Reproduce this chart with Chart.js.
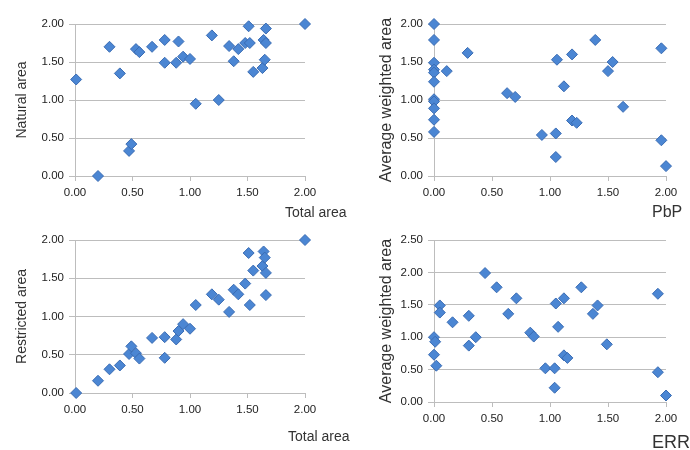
<!DOCTYPE html>
<html>
<head>
<meta charset="utf-8">
<script src="https://cdn.jsdelivr.net/npm/chart.js@4/dist/chart.umd.min.js"></script>
<style>
  body { margin: 0; background: #fff; }
  #wrap { position: relative; width: 690px; height: 450px; overflow: hidden; }
  .cell { position: absolute; width: 345px; height: 225px; }
  .xt { position: absolute; font-family: "Liberation Sans", Arial, sans-serif; color: #333; line-height: 1; white-space: nowrap; }
</style>
</head>
<body>
<div id="wrap">
  <div class="cell" style="left:0;top:0"><canvas id="c1"></canvas></div>
  <div class="cell" style="left:345px;top:0"><canvas id="c2"></canvas></div>
  <div class="cell" style="left:0;top:225px"><canvas id="c3"></canvas></div>
  <div class="cell" style="left:345px;top:225px"><canvas id="c4"></canvas></div>
  <div class="xt" style="left:285px;top:205px;font-size:14px">Total area</div>
  <div class="xt" style="left:652px;top:204px;font-size:16px">PbP</div>
  <div class="xt" style="left:288px;top:429px;font-size:14px">Total area</div>
  <div class="xt" style="left:652px;top:433px;font-size:18px">ERR</div>
</div>
<script>
// values
const totalArea = [0.01, 0.20, 0.30, 0.39, 0.47, 0.49, 0.53, 0.56, 0.67, 0.78, 0.78, 0.88, 0.90, 0.94, 1.00, 1.05,
  1.19, 1.25, 1.34, 1.38, 1.42, 1.48, 1.51, 1.52, 1.55, 1.63, 1.64, 1.65, 1.66, 1.66, 2.00];
const naturalArea = [1.27, 0.00, 1.70, 1.35, 0.33, 0.42, 1.67, 1.63, 1.70, 1.79, 1.49, 1.49, 1.77, 1.57, 1.54, 0.95,
  1.85, 1.00, 1.71, 1.51, 1.67, 1.75, 1.97, 1.75, 1.37, 1.42, 1.79, 1.53, 1.94, 1.75, 2.00];
const restrictedArea = [0.00, 0.16, 0.31, 0.36, 0.51, 0.61, 0.52, 0.45, 0.72, 0.73, 0.46, 0.70, 0.81, 0.90, 0.84, 1.15,
  1.29, 1.22, 1.06, 1.35, 1.29, 1.43, 1.83, 1.15, 1.60, 1.66, 1.85, 1.77, 1.28, 1.57, 2.00];

const pbp = [0, 0, 0, 0, 0, 0, 0, 0, 0, 0, 0, 0.11, 0.29, 0.63, 0.70, 0.93, 1.05, 1.05, 1.06, 1.12,
  1.19, 1.19, 1.23, 1.39, 1.50, 1.54, 1.63, 1.96, 1.96, 2.00];
const pbpAvgArea = [2.00, 1.79, 1.49, 1.40, 1.36, 1.24, 1.01, 0.98, 0.89, 0.74, 0.58, 1.38, 1.62, 1.09, 1.04, 0.54, 0.56, 0.25, 1.53, 1.18,
  1.60, 0.73, 0.70, 1.79, 1.38, 1.50, 0.91, 1.68, 0.47, 0.13];

const err = [0, 0.01, 0, 0.02, 0.05, 0.05, 0.16, 0.30, 0.30, 0.36, 0.44, 0.54, 0.64, 0.71, 0.83, 0.86, 0.96, 1.04, 1.04, 1.05,
  1.07, 1.12, 1.12, 1.15, 1.27, 1.37, 1.41, 1.49, 1.93, 1.93, 2.00];
const errAvgArea = [1.00, 0.93, 0.73, 0.56, 1.49, 1.38, 1.23, 1.33, 0.87, 1.00, 1.99, 1.77, 1.36, 1.60, 1.07, 1.01, 0.52, 0.52, 0.22, 1.52,
  1.16, 1.60, 0.72, 0.68, 1.77, 1.36, 1.49, 0.89, 1.67, 0.46, 0.10];

Chart.defaults.font.family = '"Liberation Sans", Arial, sans-serif';
Chart.defaults.color = '#222';

const gridCol = '#bdbdbd';

function pts(xs, ys) {
  return xs.map((x, i) => ({x: x, y: ys[i]}));
}

function makeChart(id, xs, ys, o) {
  new Chart(id, {
    type: 'scatter',
    data: {
      datasets: [{
        data: pts(xs, ys),
        pointStyle: 'rectRot',
        pointRadius: 5.5,
        pointHoverRadius: 5.5,
        backgroundColor: '#4b86d3',
        borderColor: '#3a6cb3',
        borderWidth: 1,
        clip: false
      }]
    },
    options: {
      responsive: false,
      animation: false,
      events: [],
      layout: {padding: {top: o.top, right: o.right, left: 0, bottom: 0}},
      plugins: {legend: {display: false}, tooltip: {enabled: false}},
      scales: {
        x: {
          min: 0, max: 2,
          afterFit: s => { s.height = o.xh; },
          ticks: {stepSize: 0.5, padding: 5, font: {size: 11.5}, callback: v => v.toFixed(2), maxRotation: 0},
          grid: {drawOnChartArea: false, drawTicks: true, tickLength: 5, color: gridCol},
          border: {display: true, color: gridCol}
        },
        y: {
          min: 0, max: o.ymax,
          afterFit: s => { s.width = o.yw; },
          ticks: {stepSize: 0.5, padding: 5, font: {size: 11.5}, callback: v => v.toFixed(2)},
          grid: {color: gridCol, tickLength: 6},
          border: {display: true, color: gridCol},
          title: {display: true, text: o.ytitle, color: '#333', font: {size: o.tsize}, padding: {top: o.tpad, bottom: 0}}
        }
      }
    }
  });
}

function sizeCanvas(id) {
  const c = document.getElementById(id);
  c.width = 345; c.height = 225;
  c.style.width = '345px'; c.style.height = '225px';
}
['c1', 'c2', 'c3', 'c4'].forEach(sizeCanvas);

makeChart('c1', totalArea, naturalArea, {top: 24, right: 40, xh: 49, yw: 75, ymax: 2, ytitle: 'Natural area', tsize: 14, tpad: 13.5});
makeChart('c2', pbp, pbpAvgArea, {top: 24, right: 24, xh: 49, yw: 89, ymax: 2, ytitle: 'Average weighted area', tsize: 16, tpad: 32});
makeChart('c3', totalArea, restrictedArea, {top: 15, right: 40, xh: 57, yw: 75, ymax: 2, ytitle: 'Restricted area', tsize: 14, tpad: 13.5});
makeChart('c4', err, errAvgArea, {top: 15, right: 24, xh: 48, yw: 89, ymax: 2.5, ytitle: 'Average weighted area', tsize: 16, tpad: 32});
</script>
</body>
</html>
